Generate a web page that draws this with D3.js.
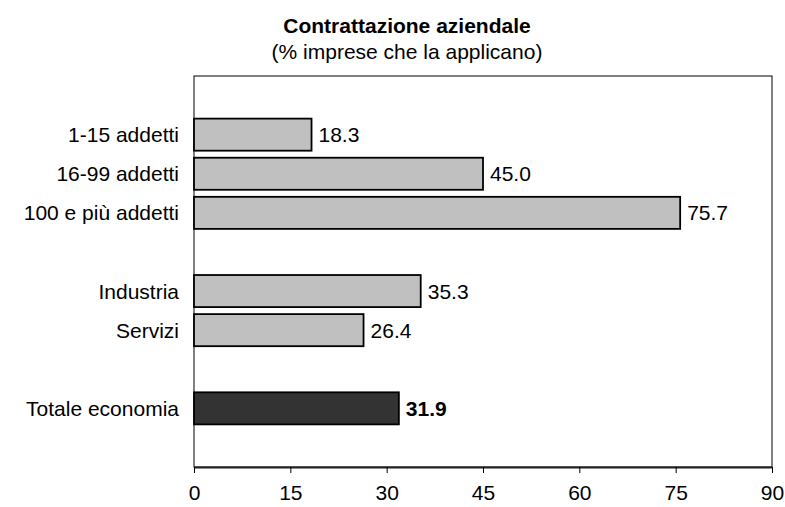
<!DOCTYPE html>
<html>
<head>
<meta charset="utf-8">
<script src="https://cdn.jsdelivr.net/npm/d3@7"></script>
<style>
  body { margin: 0; background: #fff; }
  svg { font-family: Arial, "Liberation Sans", sans-serif; }
</style>
</head>
<body>
<svg id="chart" width="785" height="507"></svg>
<script>
// slots of the category axis, blanks are the gaps between groups
let slots = ["_g0", "1-15 addetti", "16-99 addetti", "100 e più addetti", "_g1", "Industria", "Servizi", "_g2", "Totale economia", "_g3"];
let categories = ["1-15 addetti", "16-99 addetti", "100 e più addetti", "Industria", "Servizi", "Totale economia"];
let values = [18.3, 45.0, 75.7, 35.3, 26.4, 31.9];
let xTicks = [0, 15, 30, 45, 60, 75, 90];

let svg = d3.select("#chart");
let mLeft = 194, mRight = 772, mTop = 76, mBottom = 467;
let fs = "21px";

let x = d3.scaleLinear().domain([0, 90]).range([mLeft, mRight]);
let y = d3.scaleBand().domain(slots).range([mTop, mBottom]).paddingInner(0.18).paddingOuter(0.09);

let data = categories.map((c, i) => ({ name: c, value: values[i], total: c == "Totale economia" }));

// title
svg.append("text").attr("x", 407).attr("y", 33).attr("text-anchor", "middle")
    .style("font-size", fs).style("font-weight", "bold").text("Contrattazione aziendale");
svg.append("text").attr("x", 407).attr("y", 59).attr("text-anchor", "middle")
    .style("font-size", fs).text("(% imprese che la applicano)");

// frame
svg.append("rect").attr("x", mLeft).attr("y", mTop).attr("width", mRight - mLeft).attr("height", mBottom - mTop)
    .attr("fill", "none").attr("stroke", "#000").attr("stroke-width", 1);

// bars
svg.selectAll("rect.bar")
    .data(data)
    .join("rect")
    .attr("class", "bar")
    .attr("x", x(0))
    .attr("y", d => y(d.name))
    .attr("width", d => x(d.value) - x(0))
    .attr("height", y.bandwidth())
    .attr("fill", d => d.total ? "#333333" : "#c0c0c0")
    .attr("stroke", "#000")
    .attr("stroke-width", 1.8);

// value labels
svg.selectAll("text.val")
    .data(data)
    .join("text")
    .attr("class", "val")
    .attr("x", d => x(d.value) + 7)
    .attr("y", d => y(d.name) + y.bandwidth() / 2)
    .attr("dy", "0.36em")
    .style("font-size", fs)
    .style("font-weight", d => d.total ? "bold" : "normal")
    .text(d => d.value.toFixed(1));

// category labels
svg.selectAll("text.cat")
    .data(data)
    .join("text")
    .attr("class", "cat")
    .attr("x", 179)
    .attr("y", d => y(d.name) + y.bandwidth() / 2)
    .attr("dy", "0.36em")
    .attr("text-anchor", "end")
    .style("font-size", fs)
    .text(d => d.name);

// x axis
let xAxis = svg.append("g")
    .attr("transform", "translate(0," + mBottom + ")")
    .call(d3.axisBottom(x).tickValues(xTicks).tickSize(6).tickSizeOuter(0).tickPadding(12));
xAxis.select(".domain").attr("stroke", "#222").attr("stroke-width", 2);
xAxis.selectAll(".tick line").attr("stroke", "#000");
xAxis.selectAll("text").style("font-size", fs).style("font-family", "Arial, 'Liberation Sans', sans-serif");
</script>
</body>
</html>
